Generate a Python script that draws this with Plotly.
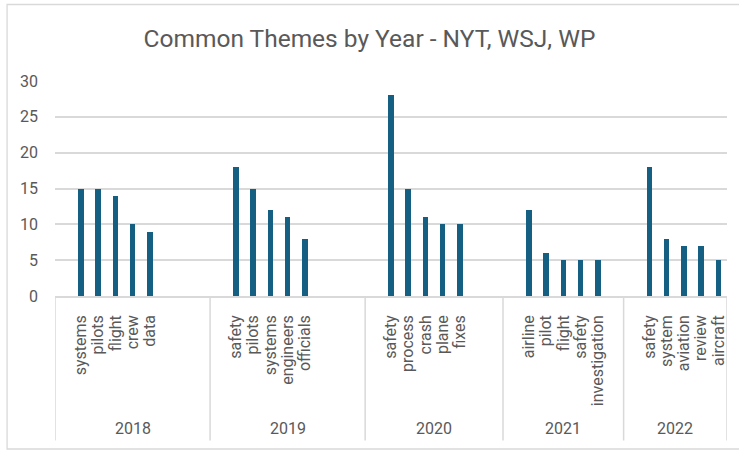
import plotly.graph_objects as go

# ---- data ----
years = ["2018", "2019", "2020", "2021", "2022"]
themes = [
    ["systems", "pilots", "flight", "crew", "data"],
    ["safety", "pilots", "systems", "engineers", "officials"],
    ["safety", "process", "crash", "plane", "fixes"],
    ["airline", "pilot", "flight", "safety", "investigation"],
    ["safety", "system", "aviation", "review", "aircraft"],
]
counts = [
    [15, 15, 14, 10, 9],
    [18, 15, 12, 11, 8],
    [28, 15, 11, 10, 10],
    [12, 6, 5, 5, 5],
    [18, 8, 7, 7, 5],
]

# ---- layout config (category slots per year group, incl. blanks) ----
slots = [9, 9, 8, 7, 6]
lead_blank = 1

W, H = 739, 450
L, R, T, B = 54.5, 727.5, 81, 296
pw, ph = R - L, B - T


def px_x(px):
    return (px - L) / pw


def px_y(py):
    return (B - py) / ph


xs, ys, tickvals, ticktext = [], [], [], []
bounds = []
start = 0
for g, (words, vals) in enumerate(zip(themes, counts)):
    bounds.append(start)
    for i, (w, v) in enumerate(zip(words, vals)):
        xs.append(start + lead_blank + i)
        ys.append(v)
        tickvals.append(start + lead_blank + i)
        ticktext.append(w)
    start += slots[g]
bounds.append(start)

grey = "#595959"
line_col = "#d9d9d9"
font = "Roboto"

fig = go.Figure()
fig.add_trace(go.Bar(x=xs, y=ys, marker_color="#156082", width=0.32,
                     marker_line_width=0, hoverinfo="y"))

shapes = []
# dividers of the category axis
for b in bounds:
    shapes.append(dict(type="line", xref="x", yref="paper",
                       x0=b - 0.5, x1=b - 0.5, y0=0, y1=px_y(440.5),
                       line=dict(color=line_col, width=1.5)))
# chart border
shapes.append(dict(type="rect", xref="paper", yref="paper",
                   x0=px_x(6.5), x1=px_x(760), y0=px_y(449), y1=px_y(4.5),
                   line=dict(color=line_col, width=1.3), layer="below"))

annotations = []
for g, y in enumerate(years):
    mid = bounds[g] + (slots[g]) / 2 - 0.5
    annotations.append(dict(x=mid, xref="x", y=px_y(428), yref="paper",
                            text=y, showarrow=False, yanchor="middle",
                            font=dict(family=font, size=16, color=grey)))

fig.update_layout(
    width=W, height=H,
    margin=dict(l=L, r=W - R, t=T, b=H - B, pad=0),
    paper_bgcolor="white", plot_bgcolor="white",
    showlegend=False,
    bargap=0,
    title=dict(text="Common Themes by Year - NYT, WSJ, WP",
               x=0.5, xref="container", xanchor="center",
               y=1 - 38 / H, yref="container", yanchor="middle",
               font=dict(family=font, size=24.5, color=grey)),
    xaxis=dict(range=[-0.5, bounds[-1] - 0.5], tickmode="array",
               tickvals=tickvals, ticktext=ticktext, tickangle=-90,
               showgrid=False, zeroline=False, showline=True,
               linecolor=line_col, linewidth=1.5, ticks="",
               ticklabelstandoff=11,
               tickfont=dict(family=font, size=16, color=grey)),
    yaxis=dict(range=[0, 30], dtick=5, showgrid=True, gridcolor=line_col,
               gridwidth=1.5, zeroline=False, showline=False, ticks="",
               ticklabelstandoff=16,
               tickfont=dict(family=font, size=16, color=grey)),
    shapes=shapes, annotations=annotations,
)

fig.write_html("out.html")
